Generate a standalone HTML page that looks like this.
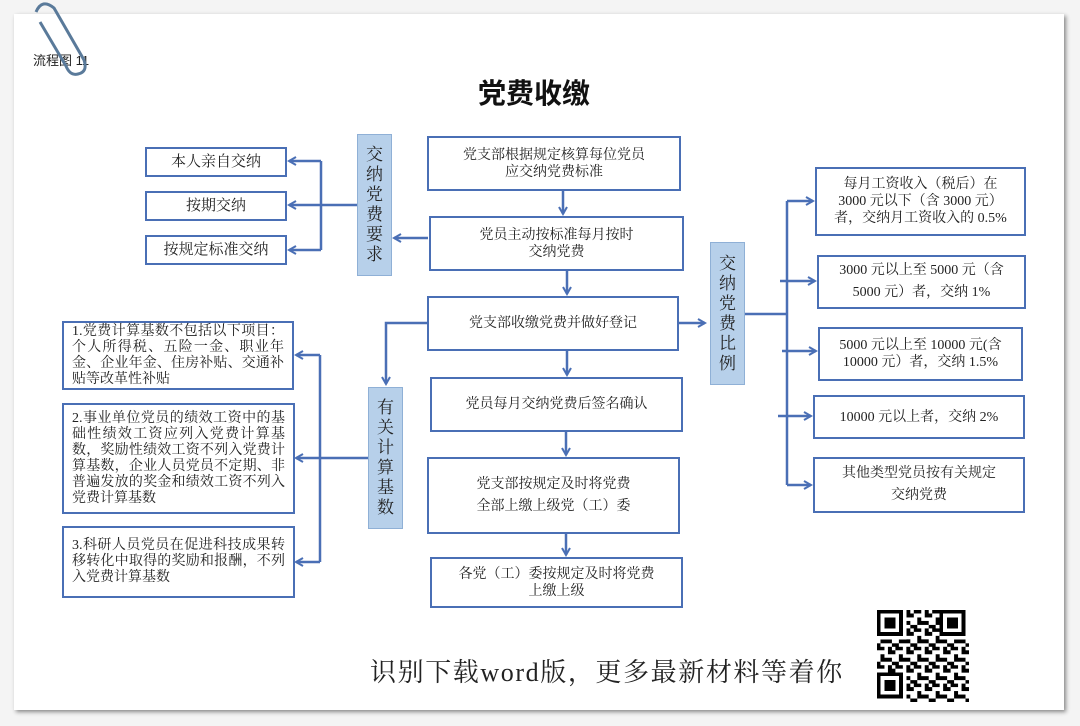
<!DOCTYPE html>
<html><head><meta charset="utf-8"><style>
body{margin:0;width:1080px;height:726px;background:#f4f4f4;position:relative;overflow:hidden;font-family:"Liberation Serif","Noto Serif CJK SC",serif;}
.paper{position:absolute;left:14px;top:14px;width:1050px;height:696px;background:#fff;box-shadow:2px 2px 4px #888;}
.b{position:absolute;border:2px solid #4a6fb5;background:#fff;box-sizing:border-box;display:flex;align-items:center;justify-content:center;text-align:center;font-size:14px;line-height:17px;color:#222;}
.v{position:absolute;background:#b7d0ea;border:1px solid #8fb0d6;box-sizing:border-box;font-size:17px;line-height:20px;color:#222;display:flex;align-items:center;justify-content:center;text-align:center;}
.l{text-align:justify;padding:0 8px;line-height:16px;font-size:14px;}
</style></head><body>
<div class="paper"></div>
<div style="position:absolute;left:33px;top:50px;font:13px 'Liberation Sans','Noto Sans CJK SC',sans-serif;color:#222">流程图 11</div>
<svg style="position:absolute;left:22px;top:0" width="70" height="80"><path d="M14 12 Q20 -2 32 8 L62 60 Q66 72 56 74 Q48 76 44 66 L18 22" fill="none" stroke="#5a7a9a" stroke-width="3"/></svg>
<div style="position:absolute;left:0;width:1068px;top:72px;text-align:center;font:bold 28px 'Liberation Sans','Noto Sans CJK SC',sans-serif;color:#111">党费收缴</div>

<svg style="position:absolute;left:0;top:0" width="1080" height="726">
<defs><marker id="a" markerWidth="10" markerHeight="10" refX="8" refY="5" orient="auto" markerUnits="userSpaceOnUse"><path d="M1 1 L8 5 L1 9" fill="none" stroke="#4a6fb5" stroke-width="2"/></marker></defs>
<g stroke="#4a6fb5" stroke-width="2.5" fill="none">
<path d="M357 205 H321"/><path d="M321 161 V250"/>
<path d="M321 161 H289" marker-end="url(#a)"/><path d="M321 205 H289" marker-end="url(#a)"/><path d="M321 250 H289" marker-end="url(#a)"/>
<path d="M428 238 H394" marker-end="url(#a)"/>
<path d="M563 190 V214" marker-end="url(#a)"/><path d="M567 270 V294" marker-end="url(#a)"/><path d="M567 350 V375" marker-end="url(#a)"/><path d="M566 431 V455" marker-end="url(#a)"/><path d="M566 533 V555" marker-end="url(#a)"/>
<path d="M427 323 H386 V384" marker-end="url(#a)"/>
<path d="M368 458 H320"/><path d="M320 355 V562"/>
<path d="M320 355 H296" marker-end="url(#a)"/><path d="M320 458 H296" marker-end="url(#a)"/><path d="M320 562 H296" marker-end="url(#a)"/>
<path d="M679 323 H705" marker-end="url(#a)"/>
<path d="M744 314 H787"/><path d="M787 201 V485"/>
<path d="M787 201 H813" marker-end="url(#a)"/><path d="M780 281 H815" marker-end="url(#a)"/><path d="M782 351 H816" marker-end="url(#a)"/><path d="M778 416 H811" marker-end="url(#a)"/><path d="M787 485 H811" marker-end="url(#a)"/>
</g></svg>

<div class="b" style="left:145px;top:147px;width:142px;height:30px;font-size:15px">本人亲自交纳</div>
<div class="b" style="left:145px;top:191px;width:142px;height:30px;font-size:15px">按期交纳</div>
<div class="b" style="left:145px;top:235px;width:142px;height:30px;font-size:15px">按规定标准交纳</div>
<div class="v" style="left:357px;top:134px;width:35px;height:142px;">交<br>纳<br>党<br>费<br>要<br>求</div>

<div class="b" style="left:427px;top:136px;width:254px;height:55px">党支部根据规定核算每位党员<br>应交纳党费标准</div>
<div class="b" style="left:429px;top:216px;width:255px;height:55px">党员主动按标准每月按时<br>交纳党费</div>
<div class="b" style="left:427px;top:296px;width:252px;height:55px">党支部收缴党费并做好登记</div>
<div class="b" style="left:430px;top:377px;width:253px;height:55px">党员每月交纳党费后签名确认</div>
<div class="b" style="left:427px;top:457px;width:253px;height:77px;line-height:22px">党支部按规定及时将党费<br>全部上缴上级党（工）委</div>
<div class="b" style="left:430px;top:557px;width:253px;height:51px">各党（工）委按规定及时将党费<br>上缴上级</div>

<div class="v" style="left:368px;top:387px;width:35px;height:142px;">有<br>关<br>计<br>算<br>基<br>数</div>
<div class="b l" style="left:62px;top:321px;width:232px;height:69px">1.党费计算基数不包括以下项目：个人所得税、五险一金、职业年金、企业年金、住房补贴、交通补贴等改革性补贴</div>
<div class="b l" style="left:62px;top:403px;width:233px;height:111px">2.事业单位党员的绩效工资中的基础性绩效工资应列入党费计算基数，奖励性绩效工资不列入党费计算基数，企业人员党员不定期、非普遍发放的奖金和绩效工资不列入党费计算基数</div>
<div class="b l" style="left:62px;top:526px;width:233px;height:72px">3.科研人员党员在促进科技成果转移转化中取得的奖励和报酬，不列入党费计算基数</div>

<div class="v" style="left:710px;top:242px;width:35px;height:143px;">交<br>纳<br>党<br>费<br>比<br>例</div>
<div class="b" style="left:815px;top:167px;width:211px;height:69px;">每月工资收入（税后）在<br>3000 元以下（含 3000 元）<br>者，交纳月工资收入的 0.5%</div>
<div class="b" style="left:817px;top:255px;width:209px;height:54px;line-height:22px">3000 元以上至 5000 元（含<br>5000 元）者，交纳 1%</div>
<div class="b" style="left:818px;top:327px;width:205px;height:54px">5000 元以上至 10000 元(含<br>10000 元）者，交纳 1.5%</div>
<div class="b" style="left:813px;top:395px;width:212px;height:44px">10000 元以上者，交纳 2%</div>
<div class="b" style="left:813px;top:457px;width:212px;height:56px;line-height:22px">其他类型党员按有关规定<br>交纳党费</div>

<div style="position:absolute;left:370px;top:652px;font-size:26px;letter-spacing:1.6px;color:#222;font-family:'Liberation Serif','Noto Serif CJK SC',serif;">识别下载word版，更多最新材料等着你</div>

<svg style="position:absolute;left:877px;top:610px" width="92" height="92" viewBox="0 0 25 25" shape-rendering="crispEdges">
<defs><pattern id="q" width="5" height="5" patternUnits="userSpaceOnUse"><path d="M0 0h2v1H0zM3 0h1v2H3zM1 2h1v2H1zM2 3h2v1H2zM4 4h1v1H4zM0 4h1v1H0zM4 1h1v1H4z" fill="#000"/></pattern></defs>
<rect width="25" height="25" fill="url(#q)"/>
<g fill="#fff"><rect width="8" height="8"/><rect x="17" width="8" height="8"/><rect y="17" width="8" height="8"/></g>
<g fill="#000"><path d="M0 0h7v7H0zM17 0h7v7h-7zM0 17h7v7H0z"/></g>
<g fill="#fff"><path d="M1 1h5v5H1zM18 1h5v5h-5zM1 18h5v5H1z"/></g>
<g fill="#000"><path d="M2 2h3v3H2zM19 2h3v3h-3zM2 19h3v3H2z"/></g>
</svg>
</body></html>
